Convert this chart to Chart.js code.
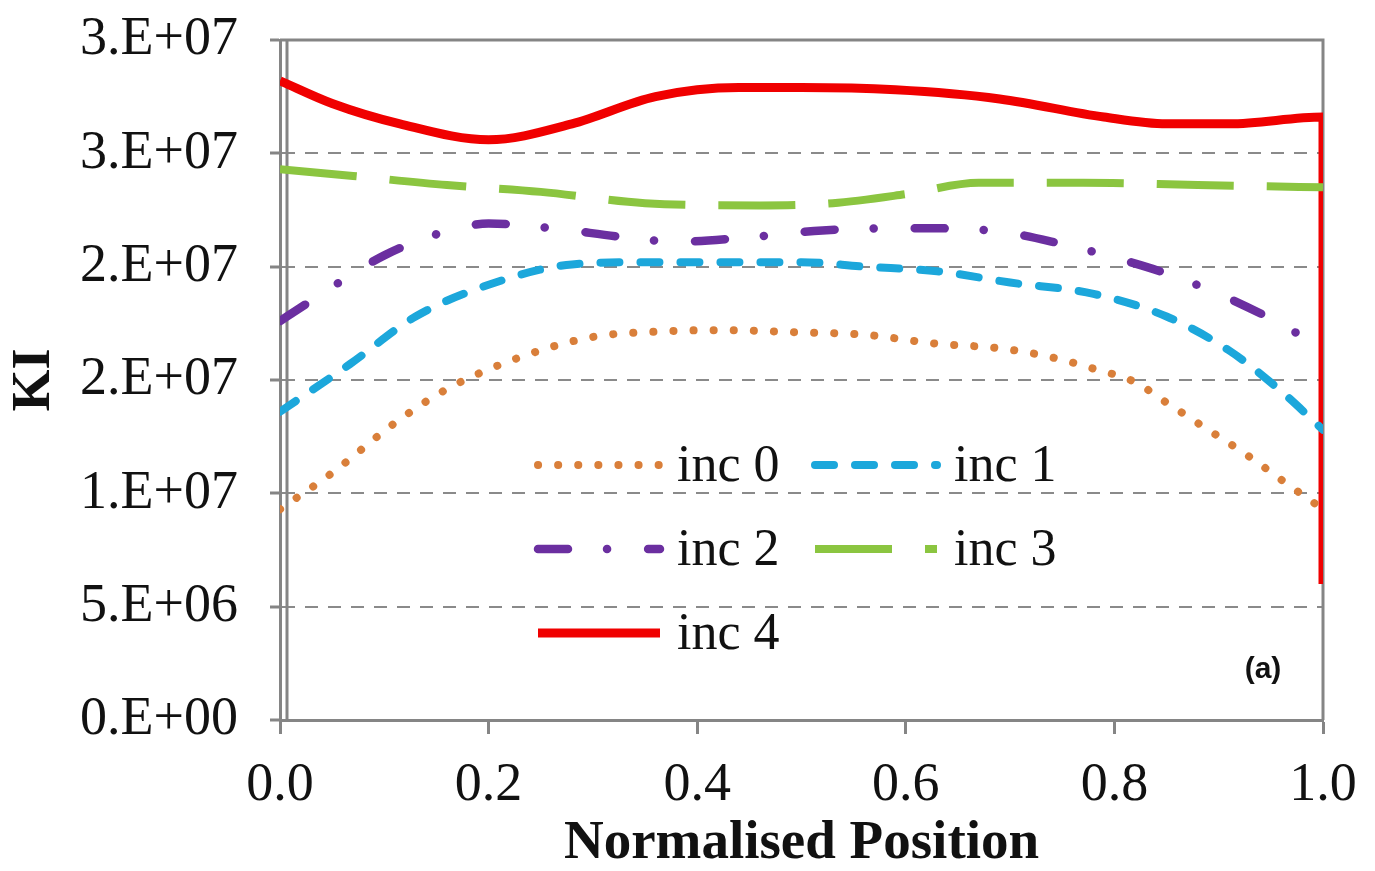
<!DOCTYPE html>
<html lang="en">
<head>
  <meta charset="UTF-8" />
  <title>KI along normalised position</title>
  <script src="https://cdn.jsdelivr.net/npm/chart.js"></script>
  <style>
    body { margin: 0; background: #fff; }
    canvas { display: block; }
  </style>
</head>
<body>

  <canvas id="kiChart" width="1375" height="871"></canvas>

  <script>
    // tick labels as printed on the figure (Excel "0.E+00" format)
    const xTickLabels = ['0.0', '0.2', '0.4', '0.6', '0.8', '1.0'];
    const yTickLabels = ['0.E+00', '5.E+06', '1.E+07', '2.E+07', '2.E+07', '3.E+07', '3.E+07'];
    const seriesNames = ['inc 0', 'inc 1', 'inc 2', 'inc 3', 'inc 4'];

    // values
    const inc0X  = [0, 0.05, 0.11, 0.16, 0.23, 0.30, 0.37, 0.42, 0.50, 0.56, 0.63, 0.69, 0.74, 0.78, 0.82, 0.85, 0.88, 0.93, 0.96, 1.0];
    const inc0KI = [9.3e6, 10.9e6, 13.1e6, 14.6e6, 16.0e6, 16.9e6, 17.15e6, 17.2e6, 17.1e6, 17.0e6, 16.6e6, 16.4e6, 16.0e6, 15.5e6, 14.9e6, 14.0e6, 13.1e6, 11.6e6, 10.6e6, 9.3e6];

    const inc1X  = [0, 0.067, 0.13, 0.20, 0.28, 0.35, 0.43, 0.50, 0.56, 0.63, 0.70, 0.78, 0.85, 0.91, 0.96, 1.0];
    const inc1KI = [13.6e6, 15.7e6, 17.8e6, 19.2e6, 20.1e6, 20.2e6, 20.2e6, 20.2e6, 20.0e6, 19.8e6, 19.3e6, 18.8e6, 17.8e6, 16.3e6, 14.5e6, 12.8e6];

    const inc2X  = [0, 0.03, 0.06, 0.10, 0.155, 0.20, 0.26, 0.33, 0.38, 0.45, 0.52, 0.60, 0.68, 0.75, 0.80, 0.85, 0.90, 0.95, 1.0];
    const inc2KI = [17.6e6, 18.5e6, 19.4e6, 20.5e6, 21.5e6, 21.9e6, 21.7e6, 21.3e6, 21.1e6, 21.3e6, 21.6e6, 21.7e6, 21.6e6, 21.0e6, 20.4e6, 19.7e6, 18.8e6, 17.7e6, 16.4e6];

    const inc3X  = [0, 0.07, 0.16, 0.25, 0.35, 0.46, 0.53, 0.60, 0.67, 0.77, 0.88, 1.0];
    const inc3KI = [24.3e6, 24.0e6, 23.6e6, 23.3e6, 22.8e6, 22.7e6, 22.8e6, 23.2e6, 23.7e6, 23.7e6, 23.6e6, 23.5e6];

    const inc4X  = [0, 0.05, 0.115, 0.20, 0.28, 0.36, 0.44, 0.50, 0.59, 0.69, 0.79, 0.85, 0.91, 1.0, 1.0];
    const inc4KI = [28.2e6, 27.2e6, 26.3e6, 25.6e6, 26.3e6, 27.5e6, 27.9e6, 27.9e6, 27.8e6, 27.4e6, 26.6e6, 26.3e6, 26.3e6, 26.6e6, 6.0e6];

    const toPoints = (xs, ys) => xs.map((x, i) => ({x: x, y: ys[i]}));

    const serif = 'Liberation Serif';
    const axisGrey = '#858585';

    // box around the plot, second left rule, in-plot legend and panel tag
    const decorations = {
      id: 'decorations',
      beforeDatasetsDraw(chart) {
        const {ctx, chartArea: a} = chart;
        ctx.save();
        ctx.strokeStyle = axisGrey;
        ctx.lineWidth = 3;
        ctx.beginPath();
        ctx.moveTo(a.left, a.top);
        ctx.lineTo(a.right, a.top);
        ctx.lineTo(a.right, a.bottom);
        ctx.moveTo(a.left + 7, a.top);
        ctx.lineTo(a.left + 7, a.bottom);
        ctx.stroke();
        ctx.restore();
      },
      afterDatasetsDraw(chart) {
        const {ctx, chartArea: a} = chart;
        ctx.save();
        ctx.font = '52px "' + serif + '"';
        ctx.textBaseline = 'middle';
        ctx.fillStyle = '#111';
        chart.data.datasets.forEach((ds, i) => {
          const col = i % 2;
          const row = Math.floor(i / 2);
          const x0 = a.left + 258 + col * 277;
          const y = a.top + 425 + row * 84;
          ctx.save();
          ctx.strokeStyle = ds.borderColor;
          ctx.lineWidth = ds.borderWidth;
          ctx.lineCap = ds.borderCapStyle || 'butt';
          ctx.setLineDash(ds.borderDash || []);
          ctx.beginPath();
          ctx.moveTo(x0, y);
          ctx.lineTo(x0 + 122, y);
          ctx.stroke();
          ctx.restore();
          ctx.fillText(ds.label, x0 + 139, y + 2);
        });
        ctx.font = 'bold 30px "Liberation Sans"';
        ctx.textAlign = 'center';
        ctx.fillText('(a)', a.right - 60, a.bottom - 50);
        ctx.restore();
      }
    };

    new Chart(document.getElementById('kiChart').getContext('2d'), {
      type: 'line',
      data: {
        datasets: [
          {
            label: seriesNames[0],
            data: toPoints(inc0X, inc0KI),
            borderColor: '#d97f3a',
            borderWidth: 8,
            borderDash: [0.1, 20],
            borderCapStyle: 'round'
          },
          {
            label: seriesNames[1],
            data: toPoints(inc1X, inc1KI),
            borderColor: '#1ca7db',
            borderWidth: 8,
            borderDash: [19, 21],
            borderCapStyle: 'round'
          },
          {
            label: seriesNames[2],
            data: toPoints(inc2X, inc2KI),
            borderColor: '#6b2fa0',
            borderWidth: 8.5,
            borderDash: [30, 39, 0.1, 41],
            borderCapStyle: 'round'
          },
          {
            label: seriesNames[3],
            data: toPoints(inc3X, inc3KI),
            borderColor: '#8bc540',
            borderWidth: 8,
            borderDash: [77, 33],
            borderCapStyle: 'butt'
          },
          {
            label: seriesNames[4],
            data: toPoints(inc4X, inc4KI),
            borderColor: '#f00000',
            borderWidth: 9,
            borderCapStyle: 'butt'
          }
        ]
      },
      options: {
        responsive: false,
        animation: false,
        parsing: false,
        elements: {
          point: { radius: 0 },
          line: { cubicInterpolationMode: 'monotone', fill: false }
        },
        layout: { padding: { top: 40, right: 52, left: 0, bottom: 0 } },
        plugins: {
          legend: { display: false },
          tooltip: { enabled: false }
        },
        scales: {
          x: {
            type: 'linear',
            min: 0,
            max: 1,
            afterFit: s => { s.height = 151; s.paddingLeft = 0; s.paddingRight = 0; },
            ticks: {
              stepSize: 0.2,
              autoSkip: false,
              maxRotation: 0,
              padding: 19,
              color: '#111',
              font: { family: serif, size: 54 },
              callback: (v, i) => xTickLabels[i]
            },
            grid: {
              drawOnChartArea: false,
              tickLength: 14,
              tickWidth: 3,
              tickColor: axisGrey
            },
            border: { color: axisGrey, width: 3 },
            title: {
              display: true,
              text: 'Normalised Position',
              color: '#111',
              font: { family: serif, size: 55, weight: 'bold', lineHeight: 1 },
              padding: { top: 0, bottom: 0 }
            }
          },
          y: {
            type: 'linear',
            min: 0,
            max: 3e7,
            afterFit: s => { s.width = 280; s.paddingTop = 0; s.paddingBottom = 0; },
            ticks: {
              stepSize: 5e6,
              padding: 32,
              color: '#111',
              font: { family: serif, size: 54 },
              callback: (v, i) => yTickLabels[i]
            },
            grid: {
              color: '#8a8a8a',
              lineWidth: 2,
              tickLength: 10,
              tickWidth: 3,
              tickColor: axisGrey
            },
            border: { color: axisGrey, width: 3, dash: [13, 10] },
            title: {
              display: true,
              text: 'KI',
              color: '#111',
              font: { family: serif, size: 54, weight: 'bold', lineHeight: 1 },
              padding: { top: 8, bottom: 0 }
            }
          }
        }
      },
      plugins: [decorations]
    });
  </script>

</body>
</html>
